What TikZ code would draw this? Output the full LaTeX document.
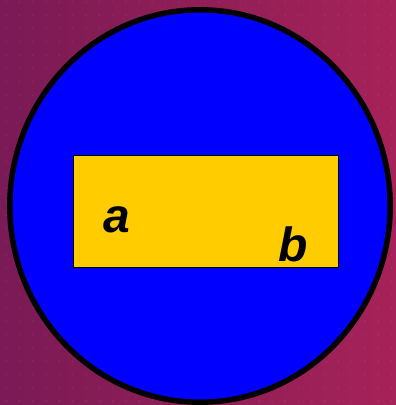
\documentclass[tikz,border=0pt]{standalone}
\usepackage{fontspec}
\setmainfont{Liberation Sans}
\definecolor{bgA}{RGB}{122,26,86}
\definecolor{bgB}{RGB}{166,34,88}
\definecolor{discblue}{RGB}{0,0,255}
\definecolor{boxyellow}{RGB}{255,204,0}
\tikzset{
  disc/.style={draw=black, line width=5.5pt, fill=discblue},
  plate/.style={draw=black, line width=1.5pt, fill=boxyellow},
  letter/.style={inner sep=0pt, anchor=base west, font=\fontsize{48}{48}\selectfont\bfseries\itshape, text=black}
}
\begin{document}
\begin{tikzpicture}[x=1pt,y=1pt]
\useasboundingbox (0,0) rectangle (396,405);
\shade[shading angle=-60, left color=bgA, right color=bgB] (0,0) rectangle (396,405);
\foreach \i in {0,...,30}{
  \foreach \j in {0,...,31}{
    \fill[white, opacity=0.06] (6+13.3*\i, 4+13.3*\j) circle (1.1pt);
  }
}
\draw[disc] (200,199) ellipse [x radius=190.2, y radius=196.2];
\node[plate, minimum width=265pt, minimum height=112pt, inner sep=0pt] (box) at (206,193.5) {};
\node[letter] (a) at (103,172) {a};
\node[letter] (b) at (278,143) {b};
\end{tikzpicture}
\end{document}
